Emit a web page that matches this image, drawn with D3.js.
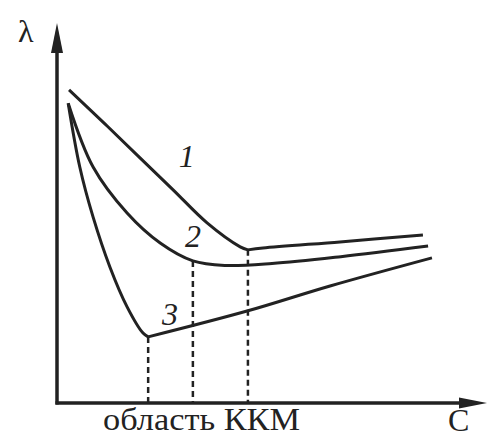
<!DOCTYPE html>
<html>
<head>
<meta charset="utf-8">
<script src="https://cdn.jsdelivr.net/npm/d3@7"></script>
<style>
    html, body { margin: 0; padding: 0; background: #fff; }
    svg { display: block; }
</style>
</head>
<body>
<div id="plot"></div>
<script>
'use strict';

// curve values, C on x and lambda on y (arbitrary units 0..10)
const curve1C = [0.28, 1.12, 1.93, 2.70, 3.49, 4.26, 4.44, 4.79, 6.58, 8.51];
const curve1L = [8.24, 7.34, 6.45, 5.61, 4.74, 4.11, 4.03, 4.08, 4.24, 4.42];
const curve1Kink = 6;

const curve2C = [0.26, 0.84, 1.63, 2.40, 3.16, 3.90, 5.00, 6.60, 8.63];
const curve2L = [7.89, 6.21, 5.00, 4.21, 3.74, 3.62, 3.67, 3.85, 4.13];

const curve3C = [0.26, 0.53, 0.84, 1.23, 1.63, 2.00, 2.12, 4.42, 6.35, 8.72];
const curve3L = [7.89, 6.21, 4.89, 3.58, 2.53, 1.84, 1.74, 2.42, 3.08, 3.82];
const curve3Kink = 6;

// CMC drop lines
const cmcC = [2.12, 3.16, 4.44];
const cmcL = [1.74, 3.74, 4.03];

// curve numbers
const labelText = ['1', '2', '3'];
const labelC = [3.02, 3.16, 2.63];
const labelL = [6.20, 4.10, 2.05];

const svgWidth = 488,
    svgHeight = 437,
    serif = 'Liberation Serif, DejaVu Serif, serif',
    svg = d3.select('#plot').append('svg')
        .attr('width', svgWidth)
        .attr('height', svgHeight),
    ink = '#222';

const xScale = d3.scaleLinear().domain([0, 10]).range([57, 487]);
const yScale = d3.scaleLinear().domain([0, 10]).range([403, 23]);

function toPoints(cs, ls, from, to) {
    return cs.slice(from, to).map((c, i) => [c, ls[from + i]]);
}

let line = d3.line()
    .x(d => xScale(d[0]))
    .y(d => yScale(d[1]))
    .curve(d3.curveCatmullRom.alpha(0.5));

// dashed drop lines
svg.append('g')
    .selectAll('line')
    .data(cmcC).enter().append('line')
    .attr('x1', d => xScale(d))
    .attr('x2', d => xScale(d))
    .attr('y1', (d, i) => yScale(cmcL[i]))
    .attr('y2', yScale(0))
    .attr('stroke', ink)
    .attr('stroke-width', 2.5)
    .attr('stroke-dasharray', '6,4');

// axes
svg.append('line')
    .attr('x1', xScale(0)).attr('x2', xScale(0))
    .attr('y1', yScale(0) + 1.5).attr('y2', yScale(10) + 20)
    .attr('stroke', ink).attr('stroke-width', 3.5);
svg.append('line')
    .attr('x1', xScale(0) - 1.5).attr('x2', xScale(10) - 20)
    .attr('y1', yScale(0)).attr('y2', yScale(0))
    .attr('stroke', ink).attr('stroke-width', 3.5);

// arrow heads
svg.append('path')
    .attr('d', `M${xScale(0)},${yScale(10)} L${xScale(0) - 6},${yScale(10) + 30} L${xScale(0) + 6},${yScale(10) + 30} Z`)
    .attr('fill', ink);
svg.append('path')
    .attr('d', `M${xScale(10)},${yScale(0)} L${xScale(10) - 28},${yScale(0) - 5.5} L${xScale(10) - 28},${yScale(0) + 5.5} Z`)
    .attr('fill', ink);

// curves, split at the kinks
let segments = [
    toPoints(curve1C, curve1L, 0, curve1Kink + 1),
    toPoints(curve1C, curve1L, curve1Kink, curve1C.length),
    toPoints(curve2C, curve2L, 0, curve2C.length),
    toPoints(curve3C, curve3L, 0, curve3Kink + 1),
    toPoints(curve3C, curve3L, curve3Kink, curve3C.length)
];

svg.append('g')
    .selectAll('path')
    .data(segments).enter().append('path')
    .attr('d', line)
    .attr('fill', 'none')
    .attr('stroke', ink)
    .attr('stroke-width', 3)
    .attr('stroke-linejoin', 'miter');

// curve numbers
svg.append('g')
    .selectAll('text')
    .data(labelText).enter().append('text')
    .attr('x', (d, i) => xScale(labelC[i]))
    .attr('y', (d, i) => yScale(labelL[i]))
    .attr('text-anchor', 'middle')
    .style('font-family', serif)
    .style('font-style', 'italic')
    .style('font-size', '32px')
    .attr('fill', ink)
    .text(d => d);

// axis titles
function title(x, y, txt, len) {
    let t = svg.append('text')
        .attr('x', x).attr('y', y)
        .style('font-family', serif)
        .style('font-size', '32px')
        .attr('fill', ink)
        .text(txt);
    if (len) t.attr('textLength', len).attr('lengthAdjust', 'spacingAndGlyphs');
}
title(18, 42, 'λ');
title(448, 431, 'C');
title(103, 430, 'область ККМ', 197);
</script>
</body>
</html>
